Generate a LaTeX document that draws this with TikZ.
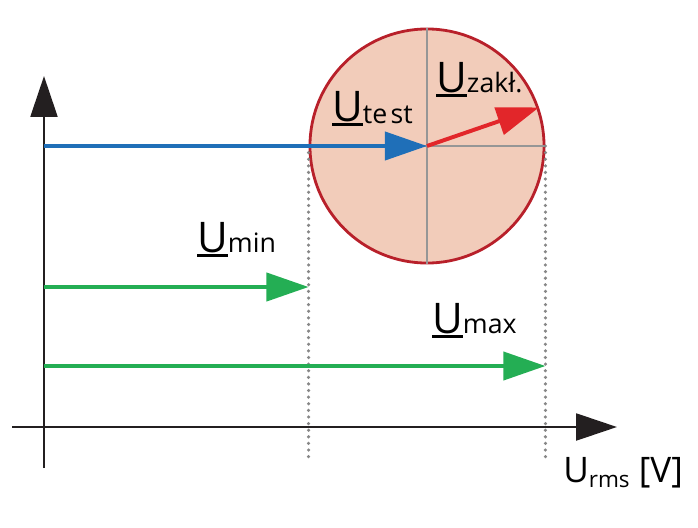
\documentclass[tikz,border=0pt]{standalone}
\usepackage{fontspec}
\setmainfont{Open Sans}
\usetikzlibrary{arrows.meta}

\definecolor{axisblack}{RGB}{35,31,32}
\definecolor{testblue}{RGB}{31,111,184}
\definecolor{limgreen}{RGB}{36,174,84}
\definecolor{zakred}{RGB}{226,38,42}
\definecolor{zoneedge}{RGB}{184,32,42}
\definecolor{zonefill}{RGB}{242,204,186}
\definecolor{guidegray}{RGB}{150,150,150}
\definecolor{dotgray}{RGB}{135,135,135}

% underlined U with a subscript
\newcommand{\phasor}[1]{{\fontsize{30}{30}\selectfont\setbox0\hbox{U}\rlap{\rule[-0.13em]{\wd0}{0.09em}}U}{\fontsize{19}{19}\selectfont#1}}

\tikzset{
    axisline/.style={line width=2pt, axisblack, -{Triangle[length=29pt,width=19pt]}},
    vecline/.style={line width=2.8pt, -{Triangle[length=30pt,width=20pt]}},
    guide/.style={dotgray, line width=2.5pt, line cap=round, dash pattern=on 0pt off 4.7pt},
    lbl/.style={inner sep=0pt, anchor=base west},
}

\begin{document}
\begin{tikzpicture}[x=0.025cm,y=-0.025cm]
        \useasboundingbox (0,0) rectangle (698,527);
        % points
            \coordinate (ybot) at (44,468);
            \coordinate (ytop) at (44,76);
            \coordinate (xleft) at (12,427);
            \coordinate (xright) at (617,427);
            \coordinate (bstart) at (44,146);
        % tolerance zone
            \node[circle, draw=zoneedge, fill=zonefill, line width=2pt, minimum size=5.85cm, inner sep=0pt] (zone) at (427,146) {};
            \draw[guidegray, line width=0.8pt] (zone.north) -- (zone.south);
            \draw[guidegray, line width=0.8pt] (zone.west) -- (zone.east);
            \coordinate (d1) at (zone.west |- 0,462);
            \coordinate (d2) at (zone.east |- 0,462);
            \draw[guide] (zone.west) -- (d1);
            \draw[guide] (zone.east) -- (d2);
        % axes
            \draw[axisline] (ybot) -- (ytop);
            \draw[axisline] (xleft) -- (xright);
        % vectors
            \draw[vecline, testblue] (bstart) -- (zone.center);
            \draw[vecline, zakred] (zone.center) -- (zone.19.5);
            \foreach \y/\e in {287/west,366/east}{
                \coordinate (gs\e) at (44,\y);
                \coordinate (ge\e) at (zone.\e |- 0,\y);
                \draw[vecline, limgreen] (gs\e) -- (ge\e);
            }
        % labels
            \node[lbl] (utest) at (332,121) {\phasor{\raisebox{-2pt}{te\hspace{0.12em}st}}};
            \node[lbl] (uzak) at (436,92) {\phasor{zakł.}};
            \node[lbl] (umin) at (197,252) {\phasor{min}};
            \node[lbl] (umax) at (432,333) {\phasor{max}};
            \node[lbl] (urms) at (563,482) {\fontsize{25}{25}\selectfont U\raisebox{-4pt}{\fontsize{16}{16}\selectfont rms} [V]};
        \end{tikzpicture}
\end{document}
